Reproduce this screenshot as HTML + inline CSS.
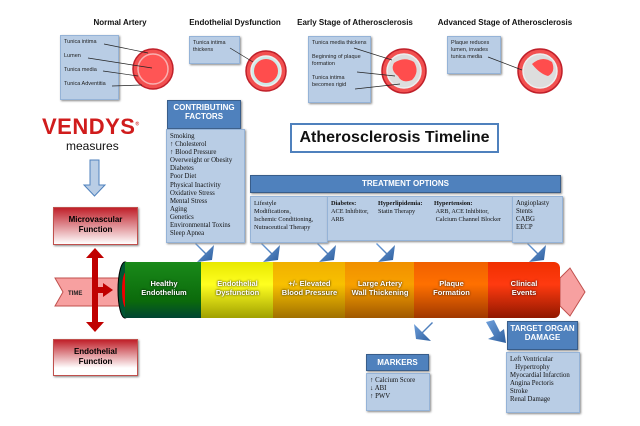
<!DOCTYPE html>
<html><head><meta charset="utf-8"><style>
body{margin:0;background:#fff;width:640px;height:426px;overflow:hidden;position:relative;font-family:"Liberation Sans",sans-serif}
.a{position:absolute}
.h{font-weight:bold;font-size:8px;text-align:center;color:#111}
.bx{position:absolute;background:#b9cde5;border:1px solid #95b3d7;box-shadow:1px 1px 2px #888;font-size:5.5px;color:#222;line-height:7px;padding:3px}
.sf{font-family:"Liberation Serif",serif;font-size:6.8px;line-height:8.1px;color:#111;white-space:nowrap}
.hd{position:absolute;background:#4f81bd;color:#fff;font-weight:bold;font-size:8px;text-align:center;border:1px solid #385d8a;box-shadow:1px 1px 2px #888;line-height:9px}
.rb{position:absolute;background:linear-gradient(#c0202a,#fff);border:1px solid #c0504d;font-weight:bold;font-size:8px;text-align:center;line-height:10px;box-shadow:1px 1px 2px #888}
.seg{position:absolute;top:262px;height:56px;color:#fff;font-weight:bold;font-size:7.5px;text-align:center;line-height:9px;text-shadow:0 0 2px #000}
</style></head><body>
<div class="a h" style="left:80px;top:18px;width:80px">Normal Artery</div>
<div class="a h" style="left:180px;top:18px;width:110px">Endothelial Dysfunction</div>
<div class="a h" style="left:295px;top:18px;width:120px">Early Stage of Atherosclerosis</div>
<div class="a h" style="left:435px;top:18px;width:140px">Advanced Stage of Atherosclerosis</div>

<div class="bx" style="left:60px;top:35px;width:51px;height:57px">Tunica intima<br><br>Lumen<br><br>Tunica media<br><br>Tunica Adventitia</div>
<div class="bx" style="left:189px;top:36px;width:43px;height:20px">Tunica intima thickens</div>
<div class="bx" style="left:308px;top:36px;width:55px;height:59px">Tunica media thickens<br><br>Beginning of plaque formation<br><br>Tunica intima becomes rigid</div>
<div class="bx" style="left:447px;top:36px;width:46px;height:30px">Plaque reduces lumen, invades tunica media</div>

<svg class="a" style="left:0;top:0" width="640" height="426">
<defs><linearGradient id="ba" x1="0" y1="0" x2="1" y2="1"><stop offset="0" stop-color="#6fa0dc"/><stop offset="1" stop-color="#2e5f9e"/></linearGradient></defs>
<g stroke="#c0202a" stroke-width="1.5">
<circle cx="153" cy="69" r="20" fill="#f25050"/><circle cx="153" cy="69" r="15" fill="#ff5555" stroke="#f9b0b0"/>
<circle cx="266" cy="71" r="20" fill="#f25050"/><circle cx="266" cy="71" r="15" fill="#ccebe9" stroke="#eee"/><circle cx="266" cy="71" r="12" fill="#ff4d4d" stroke="none"/>
<circle cx="404" cy="71" r="22" fill="#f25050"/><circle cx="404" cy="71" r="17" fill="#ddd" stroke="#eee"/><path d="M394,63 Q404,56 414,62 Q420,72 412,80 Q402,84 398,76 Q390,70 394,63Z" fill="#ff4d4d" stroke="none"/>
<circle cx="540" cy="71" r="22" fill="#f25050"/><circle cx="540" cy="71" r="17" fill="#ddd" stroke="#eee"/><path d="M532,64 Q542,55 552,62 Q556,72 548,76 Q540,74 532,64Z" fill="#ff4d4d" stroke="none"/>
</g>
<g stroke="#222" stroke-width="0.7">
<line x1="104" y1="44" x2="148" y2="53"/><line x1="88" y1="58" x2="152" y2="68"/><line x1="103" y1="71" x2="138" y2="76"/><line x1="112" y1="86" x2="142" y2="85"/>
<line x1="230" y1="48" x2="253" y2="62"/>
<line x1="354" y1="48" x2="392" y2="60"/><line x1="357" y1="72" x2="395" y2="76"/><line x1="355" y1="89" x2="400" y2="84"/>
<line x1="488" y1="57" x2="522" y2="70"/>
</g>
<path d="M90,160 h9 v25 h6 l-10.5,11 l-10.5,-11 h6z" fill="#b9cde5" stroke="#4f81bd"/>
<g fill="url(#ba)">
<path d="M196,243 l10,10 l8,-8 l-2,15 l-15,2 l8,-8 l-10,-10z"/>
<path d="M262,243 l10,10 l8,-8 l-2,15 l-15,2 l8,-8 l-10,-10z"/>
<path d="M318,243 l10,10 l8,-8 l-2,15 l-15,2 l8,-8 l-10,-10z"/>
<path d="M377,243 l10,10 l8,-8 l-2,15 l-15,2 l8,-8 l-10,-10z"/>
<path d="M528,243 l10,10 l8,-8 l-2,15 l-15,2 l8,-8 l-10,-10z"/>
<path d="M432,322 l-10,10 l-8,-8 l2,15 l15,2 l-8,-8 l10,-10z"/>
<path d="M486,322 l8,14 l-6,3 l18,4 l-2,-14 l-4,3 l-6,-12z"/>
</g>
<path d="M55,278 h70 v28 h-70 l8,-14z" fill="#f7a0a0" stroke="#c0504d"/>
<path d="M560,278 l10,-10 l15,24 l-15,24 l-10,-10z" fill="#f7a0a0" stroke="#c0504d"/>
<text x="68" y="295" font-size="6" font-weight="bold" fill="#222">TIME</text>
<path d="M95,287 h8 v-4 l10,7 l-10,7 v-4 h-8z" fill="#c00000"/>
<path d="M92,258 h6 v64 h6 l-9,10 l-9,-10 h6z M95,248 l9,10 h-18z" fill="#c00000"/>
<ellipse cx="125" cy="290" rx="7" ry="28" fill="#053" stroke="#000"/>
<ellipse cx="126" cy="290" rx="4" ry="18" fill="#e00"/>
</svg>

<div class="seg" style="left:125px;width:78px;background:linear-gradient(#1a8a1a,#0b6a0b 70%,#043)"><div style="padding-top:17px">Healthy<br>Endothelium</div></div>
<div class="seg" style="left:201px;width:73px;background:linear-gradient(#e8e800,#ffff20 40%,#a0a000)"><div style="padding-top:17px">Endothelial<br>Dysfunction</div></div>
<div class="seg" style="left:273px;width:73px;background:linear-gradient(#f0b000,#f8c000 40%,#a07000)"><div style="padding-top:17px">+/- Elevated<br>Blood Pressure</div></div>
<div class="seg" style="left:345px;width:70px;background:linear-gradient(#f09000,#f8a000 40%,#a05800)"><div style="padding-top:17px">Large Artery<br>Wall Thickening</div></div>
<div class="seg" style="left:414px;width:75px;background:linear-gradient(#f06000,#ff7000 40%,#a03800)"><div style="padding-top:17px">Plaque<br>Formation</div></div>
<div class="seg" style="left:488px;width:72px;background:linear-gradient(#f03000,#ff3a10 40%,#901800);border-radius:0 6px 6px 0"><div style="padding-top:17px">Clinical<br>Events</div></div>

<div class="a" style="left:42px;top:114px;font-size:22px;font-weight:bold;color:#d01c1c;letter-spacing:0.5px">VENDYS<sup style="font-size:5px">®</sup></div>
<div class="a" style="left:66px;top:139px;font-size:12px;color:#111">measures</div>
<div class="rb" style="left:53px;top:207px;width:83px;height:36px"><div style="padding-top:7px">Microvascular<br>Function</div></div>
<div class="rb" style="left:53px;top:339px;width:83px;height:35px;background:linear-gradient(#c0202a,#fff 80%)"><div style="padding-top:7px">Endothelial<br>Function</div></div>

<div class="hd" style="left:167px;top:100px;width:72px;height:25px;padding-top:2px">CONTRIBUTING<br>FACTORS</div>
<div class="bx sf" style="left:166px;top:129px;width:71px;height:106px;padding:3px">Smoking<br>↑ Cholesterol<br>↑ Blood Pressure<br>Overweight or Obesity<br>Diabetes<br>Poor Diet<br>Physical Inactivity<br>Oxidative Stress<br>Mental Stress<br>Aging<br>Genetics<br>Environmental Toxins<br>Sleep Apnea</div>

<div class="a" style="left:290px;top:123px;width:205px;height:26px;border:2px solid #4f81bd;font-size:16px;font-weight:bold;text-align:center;line-height:26px;color:#111">Atherosclerosis Timeline</div>

<div class="hd" style="left:250px;top:175px;width:309px;height:16px;line-height:16px">TREATMENT OPTIONS</div>
<div class="bx sf" style="left:250px;top:196px;width:70px;height:39px;font-size:6.3px">Lifestyle<br>Modifications,<br>Ischemic Conditioning,<br>Nutraceutical Therapy</div>
<div class="bx sf" style="left:327px;top:196px;width:178px;height:37px;font-size:6.3px">
<span class="a" style="left:3px;top:3px"><b>Diabetes:</b><br>ACE Inhibitor,<br>ARB</span>
<span class="a" style="left:50px;top:3px"><b>Hyperlipidemia:</b><br>Statin Therapy</span>
<span class="a" style="left:106px;top:3px"><b>Hypertension:</b><br>&nbsp;ARB, ACE Inhibitor,<br>&nbsp;Calcium Channel Blocker</span></div>
<div class="bx sf" style="left:512px;top:196px;width:43px;height:39px">Angioplasty<br>Stents<br>CABG<br>EECP</div>

<div class="hd" style="left:366px;top:354px;width:61px;height:15px;line-height:15px">MARKERS</div>
<div class="bx sf" style="left:366px;top:373px;width:56px;height:30px">↑ Calcium Score<br>↓ ABI<br>↑ PWV</div>
<div class="hd" style="left:507px;top:321px;width:69px;height:25px;padding-top:2px">TARGET ORGAN<br>DAMAGE</div>
<div class="bx sf" style="left:506px;top:352px;width:66px;height:53px">Left Ventricular<br>&nbsp;&nbsp;&nbsp;Hypertrophy<br>Myocardial Infarction<br>Angina Pectoris<br>Stroke<br>Renal Damage</div>
</body></html>
